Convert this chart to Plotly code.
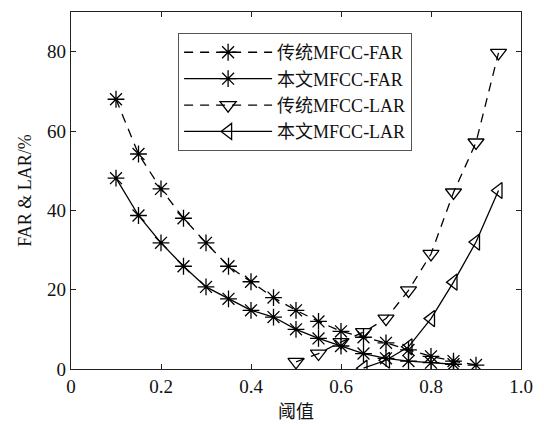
import plotly.graph_objects as go

# data
x_far_trad = [0.1, 0.15, 0.2, 0.25, 0.3, 0.35, 0.4, 0.45, 0.5, 0.55, 0.6, 0.65, 0.7, 0.75, 0.8, 0.85, 0.9]
far_trad = [68.0, 54.2, 45.4, 38.0, 31.8, 25.9, 22.0, 18.0, 14.8, 12.0, 9.5, 8.0, 6.6, 4.8, 3.2, 2.0, 1.0]
x_far_ours = [0.1, 0.15, 0.2, 0.25, 0.3, 0.35, 0.4, 0.45, 0.5, 0.55, 0.6, 0.65, 0.7, 0.75, 0.8, 0.85]
far_ours = [48.1, 38.7, 31.8, 25.9, 20.7, 17.7, 14.8, 13.1, 10.0, 7.7, 5.8, 3.9, 2.7, 2.0, 1.6, 1.2]
x_lar_trad = [0.5, 0.55, 0.6, 0.65, 0.7, 0.75, 0.8, 0.85, 0.9, 0.95]
lar_trad = [1.8, 3.9, 6.8, 9.3, 12.7, 19.8, 29.0, 44.5, 57.1, 79.7]
x_lar_ours = [0.65, 0.7, 0.75, 0.8, 0.85, 0.9, 0.95]
lar_ours = [0.2, 2.2, 5.6, 12.7, 21.9, 32.0, 45.0]
names = ["传统MFCC-FAR", "本文MFCC-FAR", "传统MFCC-LAR", "本文MFCC-LAR"]
x_ticks = [0, 0.2, 0.4, 0.6, 0.8, 1.0]
x_ticklabels = ["0", "0.2", "0.4", "0.6", "0.8", "1.0"]
y_ticks = [0, 20, 40, 60, 80]

serif = "Liberation Serif, serif"
cjk = "Liberation Serif, Noto Sans CJK SC, serif"

fig = go.Figure()
series = [
    (x_far_trad, far_trad, names[0], "dash", "asterisk-open"),
    (x_far_ours, far_ours, names[1], "solid", "asterisk-open"),
    (x_lar_trad, lar_trad, names[2], "dash", "triangle-down-open"),
    (x_lar_ours, lar_ours, names[3], "solid", "triangle-left-open"),
]
for xs, ys, nm, dash, sym in series:
    fig.add_trace(go.Scatter(
        x=xs, y=ys, name=nm, mode="lines+markers",
        line=dict(color="black", width=1.3, dash="9px,7px" if dash == "dash" else "solid"),
        marker=dict(symbol=sym, size=14, color="black", line=dict(color="black", width=1.3)),
    ))

axis_common = dict(
    showline=True, linecolor="#222", linewidth=1.3, mirror="ticks",
    ticks="inside", ticklen=5, tickcolor="#222", tickwidth=1,
    showgrid=False, zeroline=False, automargin=False,
    tickfont=dict(family=serif, size=19, color="#111"),
)
fig.update_xaxes(range=[0, 1], tickvals=x_ticks, ticktext=x_ticklabels,
                 title=dict(text="阈值", font=dict(family=cjk, size=18, color="#111"), standoff=9),
                 **axis_common)
fig.update_yaxes(range=[0, 90], tickvals=y_ticks,
                 title=dict(text="FAR &amp; LAR/%", font=dict(family=serif, size=18, color="#111"), standoff=10),
                 **axis_common)

fig.update_layout(
    width=544, height=424,
    margin=dict(l=71, r=23, t=12, b=55, autoexpand=False),
    paper_bgcolor="white", plot_bgcolor="white",
    font=dict(family=cjk, color="#111"),
    legend=dict(x=0.238, y=0.941, xanchor="left", yanchor="top",
                bgcolor="white", bordercolor="#555", borderwidth=1,
                font=dict(family=cjk, size=18, color="#111"),
                tracegroupgap=0, itemwidth=88),
    showlegend=True,
)
fig.write_html("out.html")
